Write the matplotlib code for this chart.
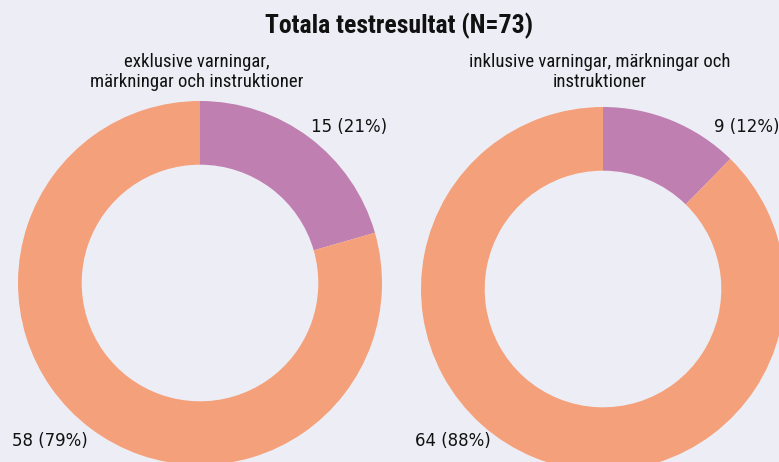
import matplotlib.pyplot as plt
from matplotlib import font_manager
import numpy as np

# Data
title = "Totala testresultat (N=73)"
subtitles = ["exklusive varningar,\nmärkningar och instruktioner",
             "inklusive varningar, märkningar och\ninstruktioner"]
categories = ["Ej godkänd", "Godkänd"]
values_excl = [15, 58]
values_incl = [9, 64]

colors = ["#C07FB1", "#F4A07A"]
bg = "#EDEEF5"

names = {f.name for f in font_manager.fontManager.ttflist}
narrow = [n for n in ["Roboto Condensed", "Liberation Sans Narrow", "Lato", "DejaVu Sans"] if n in names]

W, H = 779, 462
fig = plt.figure(figsize=(W / 100, H / 100), dpi=100, facecolor=bg)
ax = fig.add_axes([0, 0, 1, 1])
ax.set_xlim(0, W)
ax.set_ylim(0, H)
ax.set_aspect("equal")
ax.axis("off")

R = 182
centers = [(200, H - 283), (603, H - 289)]

for (cx, cy), vals, sub in zip(centers, [values_excl, values_incl], subtitles):
    ax.pie(vals, colors=colors, startangle=90, counterclock=False,
           center=(cx, cy), radius=R,
           wedgeprops=dict(width=R * 0.35, linewidth=0))
    total = sum(vals)
    pcts = [round(v / total * 100) for v in vals]
    # labels: first slice upper right, second lower left
    ax.text(cx + 0.61 * R, H - 127, f"{vals[0]} ({pcts[0]}%)",
            ha="left", va="center", fontsize=12, color="#111111")
    ax.text(cx - 0.615 * R, H - 441, f"{vals[1]} ({pcts[1]}%)",
            ha="right", va="center", fontsize=12, color="#111111")
    ax.text(cx - 3, H - 72, sub, ha="center", va="center", fontsize=13.5,
            family=narrow, linespacing=1.15, color="#111111")

ax.set_xlim(0, W)
ax.set_ylim(0, H)

fig.text(399 / W, 1 - 26 / H, title, ha="center", va="center",
         fontsize=18.5, fontweight="bold", family=narrow, color="#111111")

fig.savefig("out.png", dpi=100, facecolor=bg)
